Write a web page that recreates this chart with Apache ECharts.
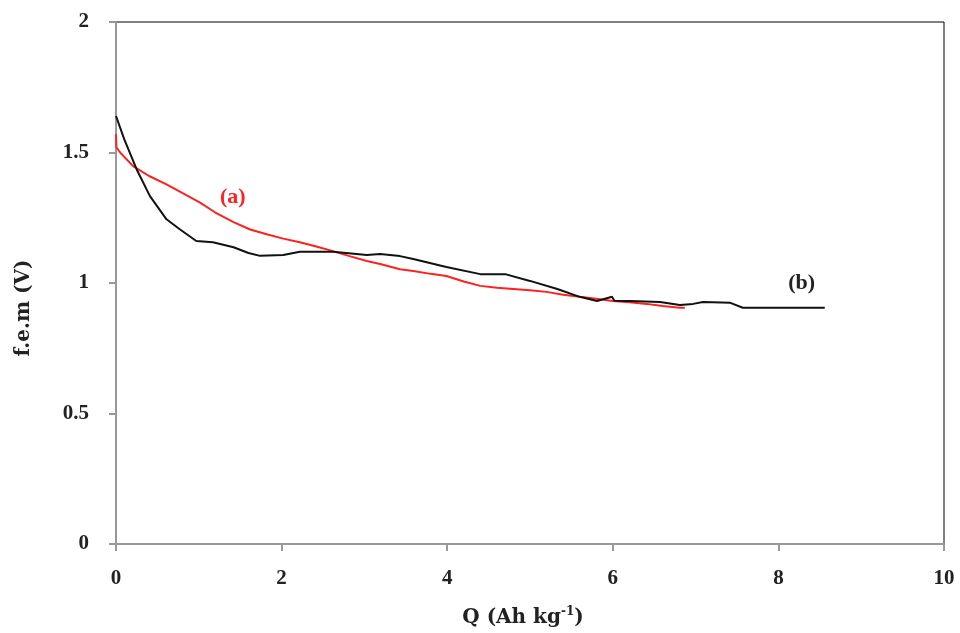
<!DOCTYPE html>
<html>
<head>
<meta charset="utf-8">
<script src="https://cdn.jsdelivr.net/npm/echarts@6/dist/echarts.min.js"></script>
<style>
  html, body { margin: 0; padding: 0; background: #fff; }
  #chart-container { width: 960px; height: 633px; }
</style>
</head>
<body>
<div id="chart-container"></div>
<script>
// curve (a), red
var qA = [0, 0.005, 0.05, 0.21, 0.4, 0.61, 0.8, 1.01, 1.2, 1.42, 1.62, 1.82, 2.02, 2.22, 2.42, 2.62, 2.82, 3.03, 3.19, 3.43, 3.59, 3.8, 3.99, 4.2, 4.4, 4.6, 4.8, 5.0, 5.2, 5.4, 5.6, 5.8, 6.0, 6.2, 6.41, 6.6, 6.81, 6.87];
var emfA = [1.57, 1.52, 1.50, 1.447, 1.41, 1.378, 1.345, 1.309, 1.27, 1.233, 1.205, 1.187, 1.17, 1.156, 1.14, 1.122, 1.103, 1.084, 1.073, 1.053, 1.046, 1.035, 1.027, 1.006, 0.989, 0.982, 0.977, 0.972, 0.966, 0.955, 0.947, 0.94, 0.931, 0.926, 0.92, 0.912, 0.905, 0.905];

// curve (b), black
var qB = [0, 0.1, 0.25, 0.41, 0.61, 0.77, 0.97, 1.17, 1.42, 1.6, 1.74, 2.02, 2.22, 2.62, 3.03, 3.19, 3.43, 3.59, 3.99, 4.4, 4.7, 5.0, 5.33, 5.6, 5.81, 5.99, 6.02, 6.21, 6.57, 6.81, 6.97, 7.09, 7.42, 7.57, 8.56];
var emfB = [1.64, 1.55, 1.435, 1.333, 1.244, 1.206, 1.161, 1.156, 1.137, 1.115, 1.104, 1.107, 1.12, 1.12, 1.107, 1.111, 1.103, 1.092, 1.061, 1.034, 1.034, 1.008, 0.977, 0.947, 0.931, 0.947, 0.932, 0.931, 0.927, 0.916, 0.92, 0.927, 0.924, 0.905, 0.905];

var xTicks = [0, 2, 4, 6, 8, 10];
var yTicks = [0, 0.5, 1, 1.5, 2];

function pairs(xs, ys) {
  return xs.map(function (x, i) { return [x, ys[i]]; });
}

var tickFont = "'Liberation Serif', serif";
var titleFont = "'DejaVu Serif', serif";

var dom = document.getElementById("chart-container");
var myChart = echarts.init(dom, null, { renderer: "canvas" });

var option = {
  animation: false,
  grid: {
    left: 116, right: 16, top: 22, bottom: 87,
    show: true, borderColor: "#000", borderWidth: 1
  },
  xAxis: {
    type: "value",
    min: xTicks[0], max: xTicks[xTicks.length - 1], interval: 2,
    name: "{t|Q (Ah kg}{s|-1}{t|)}",
    nameLocation: "middle", nameGap: 62,
    nameTextStyle: {
      padding: [0, 14, 0, 0],
      rich: {
        t: { fontFamily: titleFont, fontWeight: "bold", fontSize: 20, color: "#222" },
        s: { fontFamily: titleFont, fontWeight: "bold", fontSize: 12, color: "#222", verticalAlign: "top", padding: [0, 0, 12, 0] }
      }
    },
    axisLine: { lineStyle: { color: "#999", width: 2 } },
    axisTick: { inside: false, length: 7, lineStyle: { color: "#999", width: 2 } },
    axisLabel: { margin: 24, fontFamily: tickFont, fontWeight: "bold", fontSize: 21, color: "#222" },
    splitLine: { show: false }
  },
  yAxis: {
    type: "value",
    min: yTicks[0], max: yTicks[yTicks.length - 1], interval: 0.5,
    name: "f.e.m (V)",
    nameLocation: "middle", nameGap: 82, nameRotate: 90,
    nameTextStyle: { fontFamily: titleFont, fontWeight: "bold", fontSize: 20, color: "#222", padding: [0, 50, 0, 0] },
    axisLine: { show: true, lineStyle: { color: "#999", width: 2 } },
    axisTick: { show: true, length: 7, lineStyle: { color: "#999", width: 2 } },
    axisLabel: { margin: 27, fontFamily: tickFont, fontWeight: "bold", fontSize: 21, color: "#222" },
    splitLine: { show: false }
  },
  series: [
    {
      name: "(a)",
      type: "line",
      data: pairs(qA, emfA),
      showSymbol: false,
      lineStyle: { color: "#ff2020", width: 2 },
      markPoint: {
        symbol: "circle", symbolSize: 0,
        label: { show: true, formatter: "(a)", fontFamily: tickFont, fontWeight: "bold", fontSize: 22, color: "#ff2020" },
        data: [{ coord: [1.41, 1.33] }]
      }
    },
    {
      name: "(b)",
      type: "line",
      data: pairs(qB, emfB),
      showSymbol: false,
      lineStyle: { color: "#111", width: 2 },
      markPoint: {
        symbol: "circle", symbolSize: 0,
        label: { show: true, formatter: "(b)", fontFamily: tickFont, fontWeight: "bold", fontSize: 22, color: "#222" },
        data: [{ coord: [8.28, 1.0] }]
      }
    }
  ]
};

myChart.setOption(option);
window.addEventListener("resize", myChart.resize);
</script>
</body>
</html>
